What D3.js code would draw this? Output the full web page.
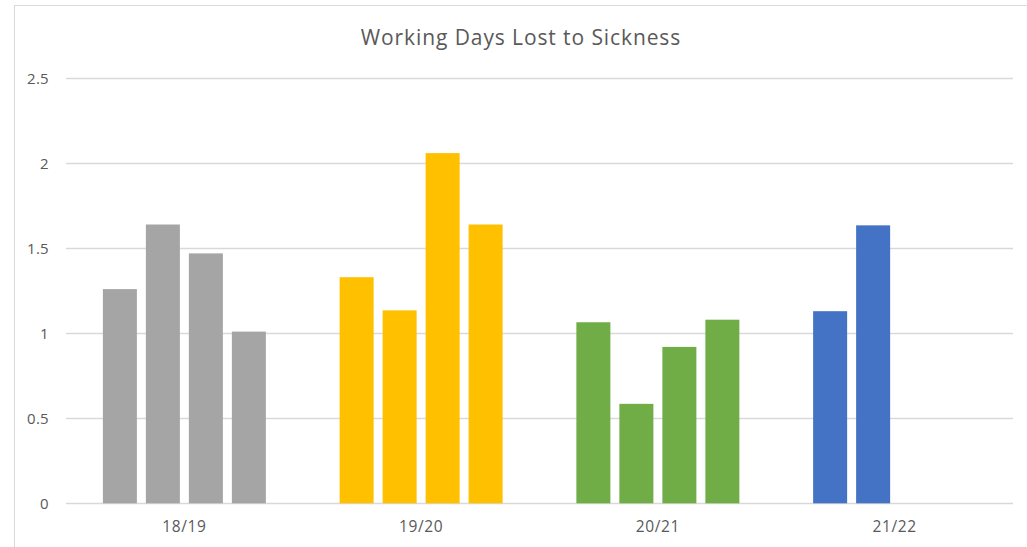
<!DOCTYPE html>
<html>
<head>
<meta charset="utf-8">
<script src="https://cdn.jsdelivr.net/npm/d3@7"></script>
<style>
  body { margin: 0; background: #fff; }
  svg { display: block; font-family: "Open Sans", Lato, sans-serif; }
</style>
</head>
<body>
<svg id="chart"></svg>
<script>
// [A] Datos ------------------------------------------------------------------
const years = ["18/19", "19/20", "20/21", "21/22"];
const quarters = ["Q1", "Q2", "Q3", "Q4"];
const values = [
    [1.26, 1.64, 1.47, 1.01],
    [1.33, 1.135, 2.06, 1.64],
    [1.065, 0.585, 0.92, 1.08],
    [1.13, 1.635, null, null]
];
const yearColors = ["#A5A5A5", "#FFC000", "#70AD47", "#4472C4"];
const yTicks = [0, 0.5, 1, 1.5, 2, 2.5];

// [B] Configuracion ------------------------------------------------------------
const width = 1027;
const height = 547;
const margin = { top: 78.3, right: 14, bottom: 43.7, left: 66 };

const svg = d3.select("#chart")
    .attr("width", width)
    .attr("height", height);

// borde del area del grafico
svg.append("rect")
    .attr("x", 14.5)
    .attr("y", 5.5)
    .attr("width", 1040)
    .attr("height", 600)
    .attr("fill", "none")
    .attr("stroke", "#d9d9d9");

// [C] Escalas ------------------------------------------------------------------
const x0 = d3.scaleBand()
    .domain(years)
    .range([margin.left, width - margin.right])
    .paddingInner(0.3115)
    .paddingOuter(0.3115 / 2);

const x1 = d3.scaleBand()
    .domain(d3.range(quarters.length))
    .range([0, x0.bandwidth()])
    .paddingInner(0.209)
    .paddingOuter(0);

const y = d3.scaleLinear()
    .domain([0, 2.5])
    .range([height - margin.bottom, margin.top]);

// [D] Cuadricula y ejes ---------------------------------------------------------
svg.append("g")
    .selectAll("line")
    .data(yTicks)
    .join("line")
    .attr("x1", margin.left)
    .attr("x2", width - margin.right)
    .attr("y1", d => Math.round(y(d)) + 0.5)
    .attr("y2", d => Math.round(y(d)) + 0.5)
    .attr("stroke", "#d9d9d9")
    .attr("stroke-width", 1.3);

svg.append("g")
    .selectAll("text")
    .data(yTicks)
    .join("text")
    .attr("x", 49)
    .attr("y", d => y(d))
    .attr("dy", "0.35em")
    .attr("text-anchor", "end")
    .attr("font-size", 15)
    .attr("letter-spacing", 0.3)
    .attr("fill", "#595959")
    .text(d => d);

// [E] Barras -------------------------------------------------------------------
const groups = svg.append("g")
    .selectAll("g")
    .data(years)
    .join("g")
    .attr("transform", d => `translate(${x0(d)},0)`);

groups.selectAll("rect")
    .data((d, i) => values[i].map((v, q) => ({ v, q, i })).filter(e => e.v !== null))
    .join("rect")
    .attr("x", d => x1(d.q))
    .attr("width", x1.bandwidth())
    .attr("y", d => y(d.v))
    .attr("height", d => y(0) - y(d.v))
    .attr("fill", d => yearColors[d.i]);

// etiquetas de categoria
svg.append("g")
    .selectAll("text")
    .data(years)
    .join("text")
    .attr("x", d => x0(d) + x0.bandwidth() / 2)
    .attr("y", 527)
    .attr("dy", "0.35em")
    .attr("text-anchor", "middle")
    .attr("font-size", 15.5)
    .attr("letter-spacing", 0.6)
    .attr("fill", "#595959")
    .text(d => d);

// [F] Titulo -------------------------------------------------------------------
svg.append("text")
    .attr("x", 521)
    .attr("y", 45)
    .attr("text-anchor", "middle")
    .attr("font-size", 21)
    .attr("letter-spacing", 0.9)
    .attr("fill", "#595959")
    .text("Working Days Lost to Sickness");
</script>
</body>
</html>
